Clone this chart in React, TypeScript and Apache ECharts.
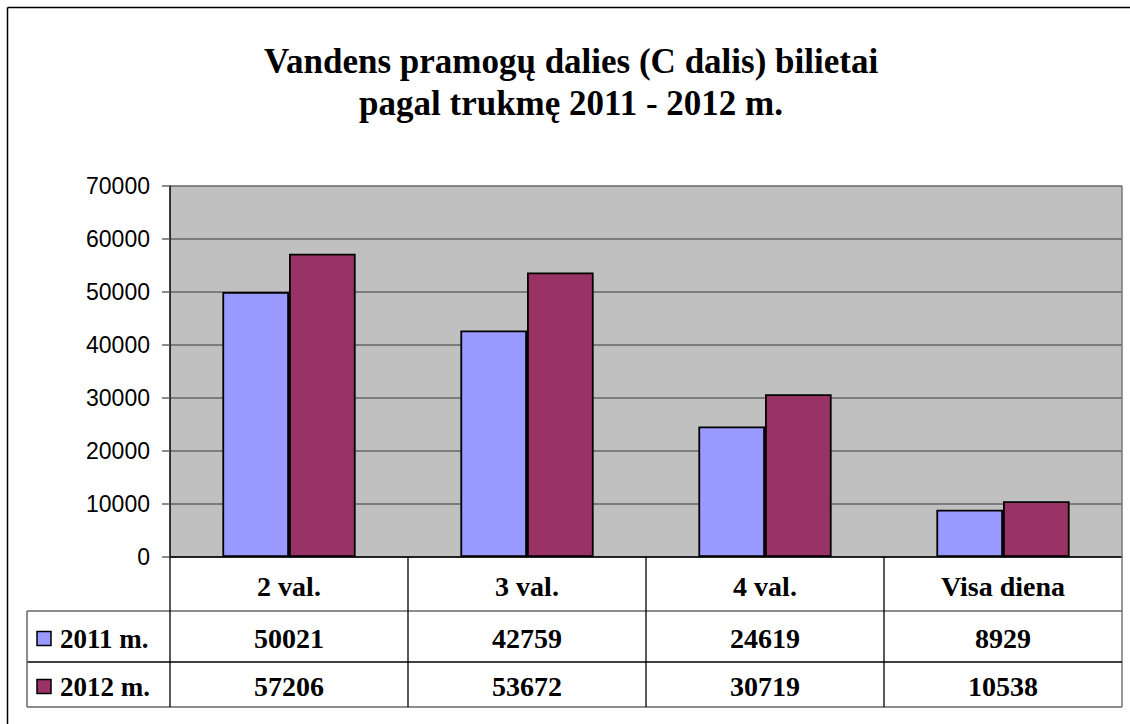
import React, { useEffect, useRef } from "react";
import * as echarts from "echarts";

const titleText = "Vandens pramogų dalies (C dalis) bilietai\npagal trukmę 2011 - 2012 m.";
const categories = ["2 val.", "3 val.", "4 val.", "Visa diena"];
const seriesNames = ["2011 m.", "2012 m."];
const values2011 = [50021, 42759, 24619, 8929];
const values2012 = [57206, 53672, 30719, 10538];
const seriesColors = ["#9999FF", "#993366"];
const yMin = 0;
const yMax = 70000;
const yInterval = 10000;

const GRID_L = 170;
const GRID_T = 186;
const GRID_W = 952;
const GRID_H = 371;
const GRID_R = GRID_L + GRID_W;
const GRID_B = GRID_T + GRID_H;
const TABLE_LEFT = 27;
const ROW1_TOP = 611;
const ROW2_TOP = 662;
const TABLE_BOTTOM = 707;
const SERIF = "'Liberation Serif', 'Times New Roman', serif";
const SANS = "Liberation Sans";

export default function App() {
  const ref = useRef<HTMLDivElement>(null);
  useEffect(() => {
    if (!ref.current) return;
    const chart = echarts.init(ref.current, null, { renderer: "svg" });
    const colW = GRID_W / categories.length;
    const rows = [values2011, values2012];
    const rowTops = [ROW1_TOP, ROW2_TOP];
    const rowBottoms = [ROW2_TOP, TABLE_BOTTOM];

    const graphics: any[] = [];
    graphics.push({
      type: "line",
      shape: { x1: 7.5, y1: 7.5, x2: 1130, y2: 7.5 },
      style: { stroke: "#000", lineWidth: 1.5 },
      z: 100,
    });
    graphics.push({
      type: "line",
      shape: { x1: 7.5, y1: 7.5, x2: 7.5, y2: 724 },
      style: { stroke: "#000", lineWidth: 1.5 },
      z: 100,
    });
    graphics.push({
      type: "line",
      shape: { x1: GRID_R, y1: GRID_T, x2: GRID_R, y2: TABLE_BOTTOM },
      style: { stroke: "#777", lineWidth: 1.5 },
      z: 50,
    });
    [
      { y: ROW1_TOP, c: "#666" },
      { y: ROW2_TOP, c: "#000" },
      { y: TABLE_BOTTOM, c: "#666" },
    ].forEach((l) =>
      graphics.push({
        type: "line",
        shape: { x1: TABLE_LEFT, y1: l.y, x2: GRID_R, y2: l.y },
        style: { stroke: l.c, lineWidth: 1.5 },
        z: 50,
      })
    );
    graphics.push({
      type: "line",
      shape: { x1: TABLE_LEFT, y1: ROW1_TOP, x2: TABLE_LEFT, y2: TABLE_BOTTOM },
      style: { stroke: "#666", lineWidth: 1.5 },
      z: 50,
    });
    for (let i = 0; i < categories.length; i++) {
      const x = GRID_L + colW * i;
      graphics.push({
        type: "line",
        shape: { x1: x, y1: GRID_B, x2: x, y2: TABLE_BOTTOM },
        style: { stroke: "#000", lineWidth: 1.3 },
        z: 50,
      });
    }
    rows.forEach((vals, r) => {
      const cy = (rowTops[r] + rowBottoms[r]) / 2 + 2;
      graphics.push({
        type: "rect",
        shape: { x: 37, y: cy - 7, width: 14, height: 14 },
        style: { fill: seriesColors[r], stroke: "#000", lineWidth: 1.5 },
        z: 60,
      });
      graphics.push({
        type: "text",
        x: 60,
        y: cy,
        style: {
          text: seriesNames[r],
          fontFamily: SERIF,
          fontWeight: "bold",
          fontSize: 27,
          fill: "#000",
          align: "left",
          verticalAlign: "middle",
        },
        z: 60,
      });
      vals.forEach((v, i) => {
        graphics.push({
          type: "text",
          x: GRID_L + colW * (i + 0.5),
          y: cy,
          style: {
            text: String(v),
            fontFamily: SERIF,
            fontWeight: "bold",
            fontSize: 28,
            fill: "#000",
            align: "center",
            verticalAlign: "middle",
          },
          z: 60,
        });
      });
    });

    chart.setOption({
      animation: false,
      title: {
        text: titleText,
        left: 566,
        top: 35,
        textAlign: "center",
        textStyle: {
          fontFamily: SERIF,
          fontWeight: "bold",
          fontSize: 35,
          lineHeight: 42,
          color: "#000",
        },
      },
      grid: {
        left: GRID_L,
        top: GRID_T,
        width: GRID_W,
        height: GRID_H,
        show: true,
        backgroundColor: "#C0C0C0",
        borderWidth: 0,
      },
      xAxis: {
        type: "category",
        data: categories,
        axisLine: { show: true, lineStyle: { color: "#000", width: 1.5 } },
        axisTick: { show: false },
        axisLabel: {
          margin: 29,
          verticalAlign: "middle",
          fontFamily: SERIF,
          fontWeight: "bold",
          fontSize: 28,
          color: "#000",
        },
      },
      yAxis: {
        type: "value",
        min: yMin,
        max: yMax,
        interval: yInterval,
        axisLine: { show: true, lineStyle: { color: "#000", width: 1.5 } },
        axisTick: { show: true, inside: false, length: 8, lineStyle: { color: "#666", width: 1.5 } },
        axisLabel: {
          margin: 20,
          fontFamily: SANS,
          fontSize: 23,
          color: "#000",
          formatter: (v: number) => String(v),
        },
        splitLine: { show: true, lineStyle: { color: "#666", width: 1.5 } },
      },
      series: [
        {
          name: seriesNames[0],
          type: "bar",
          data: values2011,
          barGap: "0%",
          barCategoryGap: "44%",
          itemStyle: { color: seriesColors[0], borderColor: "#000", borderWidth: 1.8 },
        },
        {
          name: seriesNames[1],
          type: "bar",
          data: values2012,
          itemStyle: { color: seriesColors[1], borderColor: "#000", borderWidth: 1.8 },
        },
      ],
      graphic: graphics,
    });
    return () => chart.dispose();
  }, []);
  return (
    <div
      ref={ref}
      style={{ position: "fixed", left: 0, top: 0, width: 1130, height: 724, background: "#fff" }}
    />
  );
}
